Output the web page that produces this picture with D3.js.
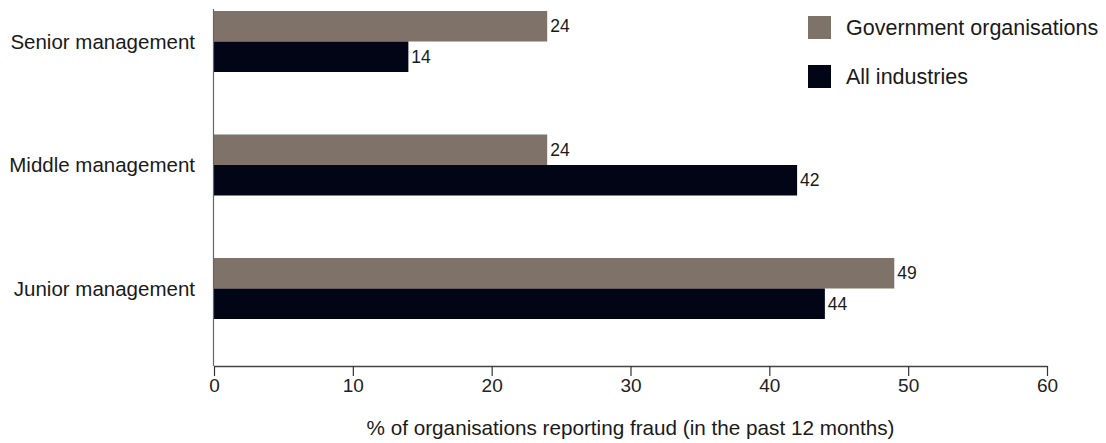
<!DOCTYPE html>
<html>
<head>
<meta charset="utf-8">
<script src="https://cdn.jsdelivr.net/npm/d3@7"></script>
<style>
  html, body { margin: 0; padding: 0; background: #fff; }
  svg { display: block; font-family: "Liberation Sans", Arial, Helvetica, sans-serif; }
</style>
</head>
<body>
<svg id="chart" width="1106" height="443"></svg>
<script>
const categories = ["Senior management", "Middle management", "Junior management"];
const seriesNames = ["Government organisations", "All industries"];
const governmentValues = [24, 24, 49];
const allIndustriesValues = [14, 42, 44];
const xTicks = [0, 10, 20, 30, 40, 50, 60];
const axisTitle = "% of organisations reporting fraud (in the past 12 months)";
const colors = ["#7f7369", "#020515"];

const svg = d3.select("#chart");
const x = d3.scaleLinear().domain([0, 60]).range([214, 1047]);
const y = d3.scaleBand().domain(categories).range([11, 319]).paddingInner(0.506).paddingOuter(0);
const sub = d3.scaleBand().domain(seriesNames).range([0, y.bandwidth()]);
const axisY = 366;

const rows = categories.map((c, i) => ({cat: c, vals: [governmentValues[i], allIndustriesValues[i]]}));

// bars
const g = svg.append("g");
rows.forEach(r => {
  r.vals.forEach((v, j) => {
    const yy = y(r.cat) + sub(seriesNames[j]);
    g.append("rect")
      .attr("x", x(0)).attr("y", yy)
      .attr("width", x(v) - x(0)).attr("height", sub.bandwidth())
      .attr("fill", colors[j]);
    g.append("text")
      .attr("x", x(v) + 3).attr("y", yy + sub.bandwidth() / 2)
      .attr("dy", "0.35em")
      .attr("font-size", 17.5).attr("fill", "#1a1a1a")
      .text(v);
  });
});

// y axis line
svg.append("line")
  .attr("x1", x(0) - 0.5).attr("x2", x(0) - 0.5)
  .attr("y1", 9).attr("y2", axisY)
  .attr("stroke", "#666").attr("stroke-width", 1.2);

// category labels
svg.append("g").selectAll("text").data(categories).join("text")
  .attr("x", 195).attr("y", d => y(d) + y.bandwidth() / 2)
  .attr("dy", "0.35em").attr("text-anchor", "end")
  .attr("font-size", 20.5).attr("fill", "#1a1a1a")
  .text(d => d);

// x axis
const xa = svg.append("g").attr("transform", `translate(0,${axisY})`)
  .call(d3.axisBottom(x).tickValues(xTicks).tickSize(10).tickPadding(3).tickSizeOuter(0));
xa.select(".domain").attr("stroke", "#444").attr("stroke-width", 1.3);
xa.selectAll(".tick line").attr("stroke", "#333").attr("stroke-width", 1.2);
xa.selectAll(".tick text").attr("font-size", 19).attr("fill", "#222")
  .attr("font-family", "'Liberation Sans', Arial, sans-serif");

// axis title
svg.append("text")
  .attr("x", (x(0) + x(60)) / 2).attr("y", 435)
  .attr("text-anchor", "middle").attr("font-size", 20.7).attr("fill", "#1a1a1a")
  .text(axisTitle);

// legend
const lg = svg.append("g");
seriesNames.forEach((s, j) => {
  const ly = 16 + j * 49;
  lg.append("rect").attr("x", 808).attr("y", ly).attr("width", 23).attr("height", 23).attr("fill", colors[j]);
  lg.append("text").attr("x", 846).attr("y", ly + 11.5).attr("dy", "0.35em")
    .attr("font-size", 21.5).attr("fill", "#1a1a1a").text(s);
});
</script>
</body>
</html>
